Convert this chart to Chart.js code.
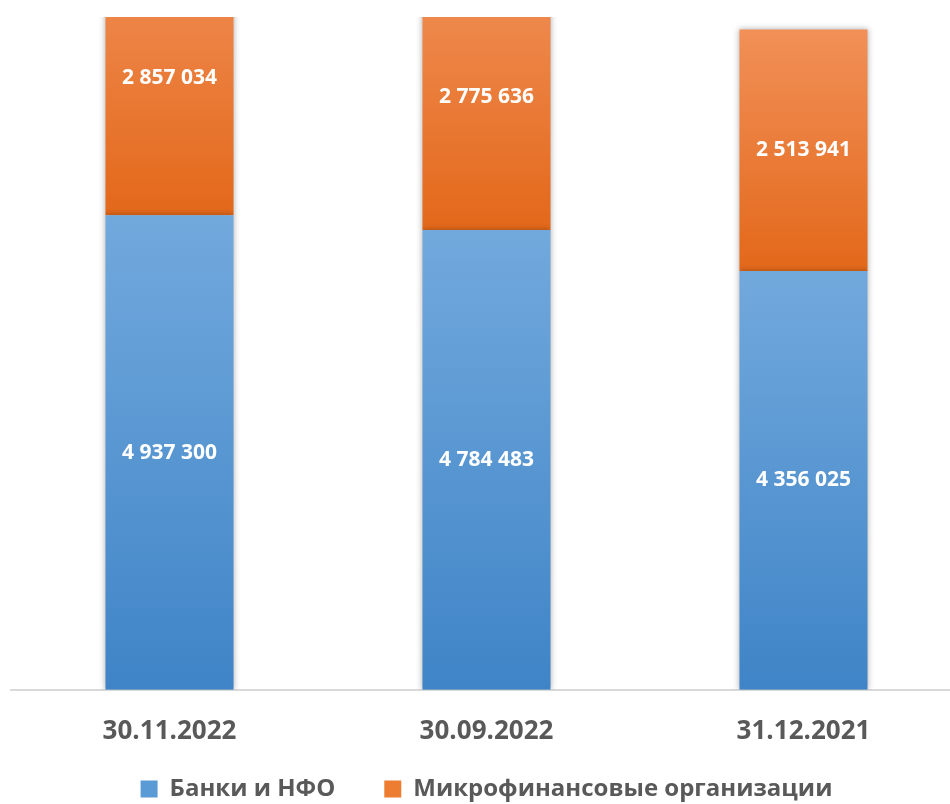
<!DOCTYPE html>
<html>
<head>
<meta charset="utf-8">
<script src="https://cdn.jsdelivr.net/npm/chart.js@4.4.0/dist/chart.umd.min.js"></script>
<style>
html, body { margin: 0; padding: 0; background: #fff; overflow: hidden; }
#wrap { width: 962px; height: 804px; }
</style>
</head>
<body>
<div id="wrap"><canvas id="chart"></canvas></div>
<script>
var dates = ["30.11.2022", "30.09.2022", "31.12.2021"];
var banks = [4937300, 4784483, 4356025];
var mfo = [2857034, 2775636, 2513941];
var seriesNames = ["Банки и НФО", "Микрофинансовые организации"];

var blueTop = "#72a9dd", blueBottom = "#3f84c7";
var orangeTop = "#f19058", orangeBottom = "#e3681a";
var legendColors = ["#5b9bd5", "#ed7d31"];

function fmt(v)
{
    return String(v).replace(/\B(?=(\d{3})+(?!\d))/g, " ");
}

function barGradient(light, dark, under)
{
    return function(ctx) {
        var chart = ctx.chart;
        if(!chart.chartArea || ctx.type !== "data") return dark;
        var y = chart.scales.y;
        var start = under ? under[ctx.dataIndex] : 0;
        var end = start + ctx.raw;
        var g = chart.ctx.createLinearGradient(0, y.getPixelForValue(end), 0, y.getPixelForValue(start));
        g.addColorStop(0, light);
        g.addColorStop(1, dark);
        return g;
    };
}

// shadow under the bars + white value labels in the middle of each segment
var barExtras = {
    id: "barExtras",
    beforeDraw: function(chart) {
        // legend uses a wide item gap; pull its box up so the row sits under the dates
        var lg = chart.legend;
        lg.top = 728;
        lg.bottom = chart.height;
    },
    beforeDatasetsDraw: function(chart) {
        var c = chart.ctx;
        c.save();
        c.shadowColor = "rgba(0,0,0,0.3)";
        c.shadowBlur = 6;
    },
    afterDatasetsDraw: function(chart) {
        var c = chart.ctx;
        c.restore();
        c.save();
        c.fillStyle = "#ffffff";
        c.font = "bold 21px 'Open Sans'";
        c.textAlign = "center";
        c.textBaseline = "middle";
        chart.data.datasets.forEach(function(ds, di) {
            chart.getDatasetMeta(di).data.forEach(function(bar, i) {
                var p = bar.getProps(["x", "y", "base"], true);
                c.fillText(fmt(ds.data[i]), p.x, (p.y + p.base) / 2);
            });
        });
        c.restore();
    }
};

new Chart(document.getElementById("chart").getContext("2d"), {
    type: "bar",
    data: {
        labels: dates,
        datasets: [
            {label: seriesNames[0], data: banks, backgroundColor: barGradient(blueTop, blueBottom, null)},
            {label: seriesNames[1], data: mfo, backgroundColor: barGradient(orangeTop, orangeBottom, banks)}
        ]
    },
    options: {
        responsive: true,
        maintainAspectRatio: false,
        animation: false,
        layout: {padding: {top: 17, left: 11, right: 0, bottom: 0}},
        datasets: {bar: {categoryPercentage: 1, barPercentage: 0.404}},
        scales: {
            x: {
                stacked: true,
                grid: {display: false},
                border: {display: true, color: "#d9d9d9", width: 2},
                ticks: {color: "#595959", font: {family: "Open Sans", size: 26, weight: "bold"}, padding: 18}
            },
            y: {
                stacked: true,
                display: false,
                min: 0,
                max: 7000000
            }
        },
        plugins: {
            tooltip: {enabled: false},
            legend: {
                position: "bottom",
                maxHeight: 39,
                labels: {
                    boxWidth: 17,
                    boxHeight: 17,
                    padding: 49,
                    color: "#595959",
                    font: {family: "Open Sans", size: 24, weight: "bold"},
                    generateLabels: function(chart) {
                        return chart.data.datasets.map(function(ds, i) {
                            return {text: ds.label, fillStyle: legendColors[i], strokeStyle: legendColors[i],
                                    lineWidth: 0, datasetIndex: i, hidden: false, fontColor: "#595959"};
                        });
                    }
                }
            }
        }
    },
    plugins: [barExtras]
});
</script>
</body>
</html>
